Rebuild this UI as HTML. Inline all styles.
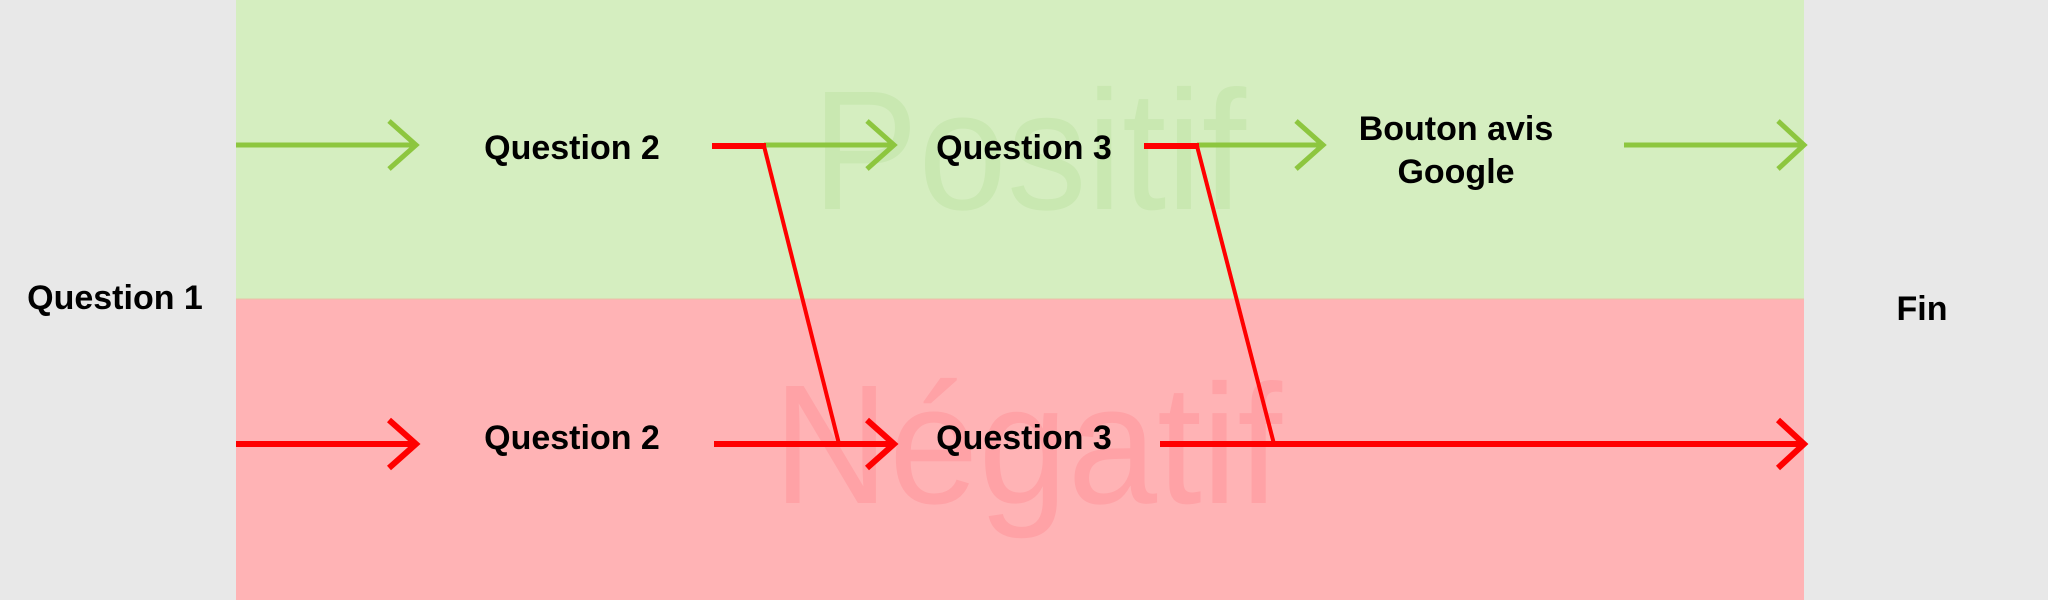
<!DOCTYPE html>
<html><head><meta charset="utf-8"><style>html,body{margin:0;padding:0;background:#e8e8e8;}svg{display:block}</style></head>
<body>
<svg width="2048" height="600" viewBox="0 0 2048 600" xmlns="http://www.w3.org/2000/svg" font-family="Liberation Sans, sans-serif">
<rect x="0" y="0" width="2048" height="600" fill="#e8e8e8"/>
<rect x="236" y="0" width="1568" height="299" fill="#d5eec0"/>
<rect x="236" y="299" width="1568" height="301" fill="#ffb3b5"/>
<line x1="236" y1="299" x2="1804" y2="299" stroke="#e6c4a8" stroke-width="1"/>
<text x="812" y="209" font-size="170" fill="#c9e8b1" textLength="434" lengthAdjust="spacingAndGlyphs">Positif</text>
<text x="773" y="503" font-size="170" fill="#ffa2a6" textLength="509" lengthAdjust="spacingAndGlyphs">Négatif</text>
<g fill="none" stroke-width="5" stroke="#8dc63f">
<line x1="236" y1="145" x2="414" y2="145"/><polyline points="389,121 416,145 389,169"/>
<line x1="764" y1="145" x2="891" y2="145"/><polyline points="867,121 894,145 867,169"/>
<line x1="1197" y1="145" x2="1321" y2="145"/><polyline points="1296,121 1323,145 1296,169"/>
<line x1="1624" y1="145" x2="1801" y2="145"/><polyline points="1778,121 1804,145 1778,169"/>
</g>
<g fill="none" stroke="#ff0000" stroke-width="6">
<line x1="236" y1="444" x2="414" y2="444"/><polyline points="389,420 416,444 389,468"/>
<line x1="714" y1="444" x2="891" y2="444"/><polyline points="867,420 894,444 867,468"/>
<line x1="1160" y1="444" x2="1801" y2="444"/><polyline points="1778,420 1804,444 1778,468"/>
<line x1="712" y1="146" x2="766" y2="146"/>
<line x1="1144" y1="146" x2="1199" y2="146"/>
</g>
<g fill="none" stroke="#ff0000" stroke-width="4">
<polyline points="764,146 839,444"/>
<polyline points="1197,146 1274,444"/>
</g>
<g font-weight="bold" font-size="34" fill="#000" text-anchor="middle">
<text x="115" y="309">Question 1</text>
<text x="572" y="159">Question 2</text>
<text x="572" y="449">Question 2</text>
<text x="1024" y="159">Question 3</text>
<text x="1024" y="449">Question 3</text>
<text x="1456" y="140">Bouton avis</text>
<text x="1456" y="183">Google</text>
<text x="1922" y="320">Fin</text>
</g>
</svg>
</body></html>
